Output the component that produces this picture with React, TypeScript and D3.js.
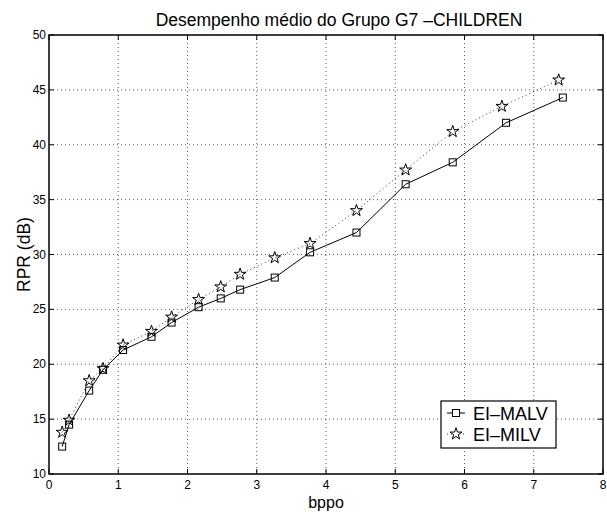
import * as d3 from "d3";

// Dados
const bppoMalv = [0.19, 0.29, 0.58, 0.78, 1.07, 1.48, 1.77, 2.16, 2.48, 2.76, 3.26, 3.77, 4.44, 5.15, 5.83, 6.6, 7.42];
const rprMalv = [12.5, 14.5, 17.6, 19.5, 21.3, 22.5, 23.8, 25.2, 26.0, 26.8, 27.9, 30.2, 32.0, 36.4, 38.4, 42.0, 44.3];

const bppoMilv = [0.19, 0.29, 0.58, 0.78, 1.07, 1.48, 1.77, 2.16, 2.48, 2.76, 3.26, 3.77, 4.44, 5.15, 5.83, 6.54, 7.36];
const rprMilv = [13.8, 14.9, 18.5, 19.6, 21.75, 23.0, 24.3, 25.9, 27.05, 28.2, 29.7, 31.0, 34.0, 37.7, 41.2, 43.5, 45.9];

const xTicks = [0, 1, 2, 3, 4, 5, 6, 7, 8];
const yTicks = [10, 15, 20, 25, 30, 35, 40, 45, 50];

const seriesNames = ["EI\u2013MALV", "EI\u2013MILV"];

const W = 607;
const H = 512;
const margin = { left: 49, right: 4, top: 35, bottom: 38 };
const FONT = "'Liberation Sans', Arial, Helvetica, sans-serif";

const App = () => {
  const x = d3.scaleLinear().domain([0, 8]).range([margin.left, W - margin.right]);
  const y = d3.scaleLinear().domain([10, 50]).range([H - margin.bottom, margin.top]);
  const [x0, x1] = x.range();
  const [yb, yt] = y.range();

  const line = d3
    .line<[number, number]>()
    .x((d) => x(d[0]))
    .y((d) => y(d[1]));

  const malv = bppoMalv.map((v, i) => [v, rprMalv[i]] as [number, number]);
  const milv = bppoMilv.map((v, i) => [v, rprMilv[i]] as [number, number]);

  const star = d3.symbol(d3.symbolStar, 44)();
  const tick = 5;

  // legenda
  const lg = { x: 441, y: 401, w: 115, h: 47 };
  const row = (i: number) => lg.y + 12 + i * 21;

  return (
    <svg
      width={W}
      height={H}
      style={{ position: "absolute", left: 0, top: 0, background: "#fff" }}
      fontFamily={FONT}
    >
      <rect x={0} y={0} width={W} height={H} fill="#fff" />

      {/* grade */}
      {xTicks.slice(1, -1).map((t) => (
        <line key={"gx" + t} x1={x(t)} x2={x(t)} y1={yt} y2={yb} stroke="#333" strokeWidth={0.8} strokeDasharray="1,3" />
      ))}
      {yTicks.slice(1, -1).map((t) => (
        <line key={"gy" + t} x1={x0} x2={x1} y1={y(t)} y2={y(t)} stroke="#333" strokeWidth={0.8} strokeDasharray="1,3" />
      ))}

      {/* ticks */}
      {xTicks.map((t) => (
        <g key={"tx" + t}>
          <line x1={x(t)} x2={x(t)} y1={yb} y2={yb - tick} stroke="#000" />
          <line x1={x(t)} x2={x(t)} y1={yt} y2={yt + tick} stroke="#000" />
          <text x={x(t)} y={yb + 15} textAnchor="middle" fontSize={12}>
            {t}
          </text>
        </g>
      ))}
      {yTicks.map((t) => (
        <g key={"ty" + t}>
          <line x1={x0} x2={x0 + tick} y1={y(t)} y2={y(t)} stroke="#000" />
          <line x1={x1} x2={x1 - tick} y1={y(t)} y2={y(t)} stroke="#000" />
          <text x={x0 - 3} y={y(t) + 4} textAnchor="end" fontSize={12}>
            {t}
          </text>
        </g>
      ))}

      {/* séries */}
      <path d={line(milv) ?? ""} fill="none" stroke="#000" strokeWidth={0.8} strokeDasharray="1,3" />
      <path d={line(malv) ?? ""} fill="none" stroke="#000" strokeWidth={1} />
      {malv.map((d, i) => (
        <rect key={"m" + i} x={x(d[0]) - 3.5} y={y(d[1]) - 3.5} width={7} height={7} fill="none" stroke="#000" strokeWidth={1} />
      ))}
      {milv.map((d, i) => (
        <path key={"s" + i} d={star ?? ""} transform={`translate(${x(d[0])},${y(d[1])})`} fill="none" stroke="#000" strokeWidth={1} />
      ))}

      {/* moldura */}
      <rect x={x0} y={yt} width={x1 - x0} height={yb - yt} fill="none" stroke="#000" strokeWidth={1.5} />

      {/* legenda */}
      <rect x={lg.x} y={lg.y} width={lg.w} height={lg.h} fill="#fff" stroke="#000" strokeWidth={1.2} />
      <line x1={lg.x + 6} x2={lg.x + 24} y1={row(0)} y2={row(0)} stroke="#000" />
      <rect x={lg.x + 15 - 3.5} y={row(0) - 3.5} width={7} height={7} fill="#fff" stroke="#000" />
      <line x1={lg.x + 6} x2={lg.x + 24} y1={row(1)} y2={row(1)} stroke="#000" strokeWidth={0.8} strokeDasharray="1,3" />
      <path d={star ?? ""} transform={`translate(${lg.x + 15},${row(1)})`} fill="#fff" stroke="#000" />
      {seriesNames.map((s, i) => (
        <text key={s} x={lg.x + 32} y={row(i) + 6.5} fontSize={18}>
          {s}
        </text>
      ))}

      {/* títulos */}
      <text x={339} y={26} textAnchor="middle" fontSize={17.5}>
        Desempenho médio do Grupo G7 –CHILDREN
      </text>
      <text x={(x0 + x1) / 2} y={507.5} textAnchor="middle" fontSize={16}>
        bppo
      </text>
      <text transform={`translate(30,${(yt + yb) / 2}) rotate(-90)`} textAnchor="middle" fontSize={17.5}>
        RPR (dB)
      </text>
    </svg>
  );
};

export default App;
